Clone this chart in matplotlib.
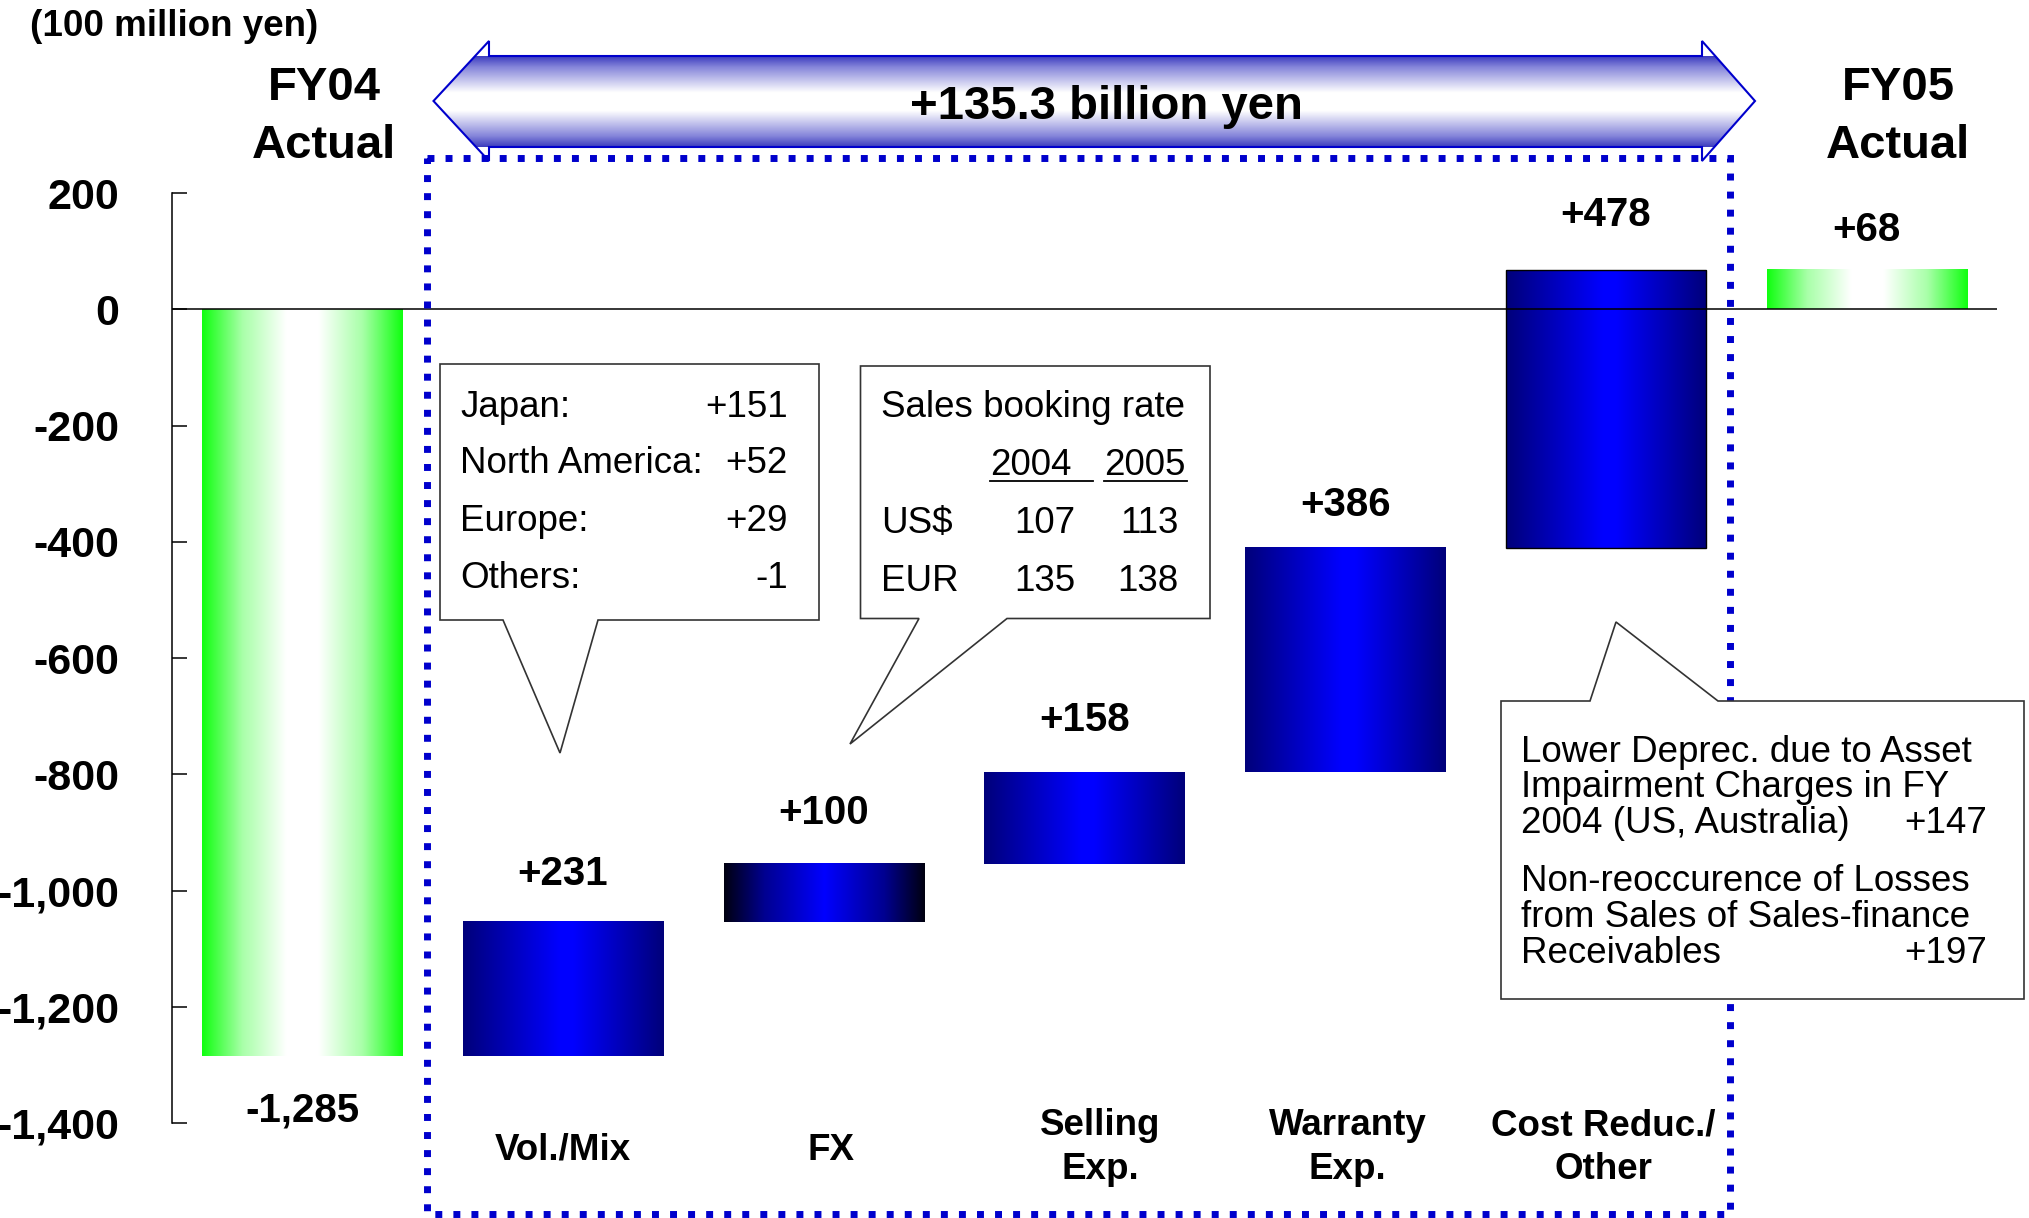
import matplotlib
matplotlib.use('Agg')
import matplotlib.pyplot as plt
import numpy as np
from matplotlib.colors import LinearSegmentedColormap
from matplotlib.patches import Polygon, Rectangle
from matplotlib.transforms import blended_transform_factory

plt.rcParams['font.family'] = ['Liberation Sans', 'DejaVu Sans']

W, H = 2029, 1218

# operating income bridge, 100 million yen
fy04_actual = -1285
step_labels = ['Vol./Mix', 'FX', 'Selling\nExp.', 'Warranty\nExp.', 'Cost Reduc./\nOther']
changes = [231, 100, 158, 386, 478]
fy05_actual = 68
yticks = [200, 0, -200, -400, -600, -800, -1000, -1200, -1400]
total_change = '+135.3 billion yen'

regions = ['Japan:', 'North America:', 'Europe:', 'Others:']
region_values = ['+151', '+52', '+29', '-1']
fx_years = ['2004', '2005']
fx_currencies = ['US$', 'EUR']
fx_rates = [[107, 113], [135, 138]]
cost_lines = ['Lower Deprec. due to Asset', 'Impairment Charges in FY', '2004 (US, Australia)',
              'Non-reoccurence of Losses', 'from Sales of Sales-finance', 'Receivables']
cost_values = ['+147', '+197']

# layout (pixels from top-left)
label_gap = [-50, 52, 55, 56, 47, 59, 44]
step_nudge = [0, 0.03, 0.06, 0.01, -0.01]

green = LinearSegmentedColormap.from_list('green', [(0, '#10ff10'), (0.2, '#a8ffa8'), (0.42, '#ffffff'),
                                                    (0.58, '#ffffff'), (0.8, '#a8ffa8'), (1, '#10ff10')])
blue = LinearSegmentedColormap.from_list('blue', [(0, '#00007a'), (0.48, '#0000ff'), (0.55, '#0000ff'),
                                                  (1, '#00007a')])
blue_dark = LinearSegmentedColormap.from_list('blue_dark', [(0, '#000010'), (0.2, '#000090'), (0.5, '#0000ff'),
                                                            (0.8, '#000090'), (1, '#000010')])
band = LinearSegmentedColormap.from_list('band', [(0, '#3c3cbe'), (0.12, '#8585da'), (0.4, '#ffffff'),
                                                  (0.6, '#ffffff'), (0.88, '#8585da'), (1, '#3c3cbe')])

fig = plt.figure(figsize=(W / 100, H / 100), dpi=100)
ax = fig.add_axes([171.7 / W, 0, (1997 - 171.7) / W, 1])

n = len(changes)
x = np.arange(n + 2)
bottoms = np.concatenate([[0], fy04_actual + np.cumsum([0] + changes[:-1]), [0]])
heights = np.concatenate([[fy04_actual], changes, [fy05_actual]])
cmaps = [green, blue, blue_dark, blue, blue, blue, green]

bars = ax.bar(x, heights, bottom=bottoms, width=0.767, facecolor='none', edgecolor='none', zorder=3)
bars[5].set_edgecolor('black')
bars[5].set_linewidth(1.0)

grad = np.linspace(0, 1, 256).reshape(1, -1)
for bar, cmap in zip(bars, cmaps):
    x0, y0 = bar.get_x(), bar.get_y()
    ax.imshow(grad, cmap=cmap, extent=[x0, x0 + bar.get_width(), y0, y0 + bar.get_height()],
              aspect='auto', interpolation='bilinear', zorder=2)

ax.axhline(0, color='black', lw=1.1, zorder=4)

ax.set_xlim(-0.5, 6.5)
ax.set_ylim(-1563.4, 532.1)
for side in ['top', 'right', 'bottom']:
    ax.spines[side].set_visible(False)
ax.spines['left'].set_bounds(-1400, 200)
ax.spines['left'].set_linewidth(1.1)
ax.set_xticks([])
ax.set_yticks(yticks)
ax.set_yticklabels([f'{v:,}' for v in yticks], fontsize=31, fontweight='bold')
ax.tick_params(axis='y', direction='in', length=10.8, width=1.1, pad=38)
ax.patch.set_visible(False)

# value labels
tops = bottoms + heights
label_y = [bottoms[0] + heights[0]] + list(tops[1:])
label_txt = [f'{fy04_actual:,}'] + [f'+{v}' for v in changes] + [f'+{fy05_actual}']
for xi, yi, txt, gap in zip(x, label_y, label_txt, label_gap):
    ax.annotate(txt, (xi, yi), xytext=(0, (gap - 4) * 0.72), textcoords='offset points',
                ha='center', va='center', fontsize=29, fontweight='bold', zorder=5)

# category names under the steps
trans = blended_transform_factory(ax.transData, ax.transAxes)
for xi, lab, dx in zip(x[1:-1], step_labels, step_nudge):
    lines = lab.split('\n')
    bases = [1160] if len(lines) == 1 else [1135, 1179]
    for line, b in zip(lines, bases):
        ax.text(xi + dx, 1 - b / H, line, transform=trans, ha='center', va='baseline',
                fontsize=26.5, fontweight='bold')

# overlay in pixel coordinates for annotations
ov = fig.add_axes([0, 0, 1, 1])
ov.patch.set_visible(False)
ov.axis('off')

ov.text(30, 36, '(100 million yen)', fontsize=26.5, fontweight='bold', va='baseline')
for cx in [324, 1898]:
    label = 'FY04' if cx < 1000 else 'FY05'
    ov.text(cx, 100, label, fontsize=34, fontweight='bold', ha='center', va='baseline')
    ov.text(cx, 158, 'Actual', fontsize=34, fontweight='bold', ha='center', va='baseline')

# total change arrow
arrow_pts = [(433.5, 101), (489, 41), (489, 56), (1702, 56), (1702, 41), (1755, 101),
             (1702, 161), (1702, 147), (489, 147), (489, 161)]
arrow = Polygon(arrow_pts, closed=True, facecolor='none', edgecolor='#0000cc', lw=1.5, zorder=3)
ov.add_patch(arrow)
im = ov.imshow(np.linspace(0, 1, 256).reshape(-1, 1), cmap=band, extent=[433, 1756, 147, 56],
               aspect='auto', interpolation='bilinear', zorder=2)
im.set_clip_path(arrow)
ov.text(1106, 107, total_change, fontsize=34, fontweight='bold', ha='center', va='center', zorder=4)

# dotted frame around the change items
ov.add_patch(Rectangle((426.5, 158.3), 1730.3 - 426.5, 1214 - 158.3, facecolor='none',
                       edgecolor='#0000cc', lw=5, ls=(0, (1, 1.6)), zorder=5))

box_style = dict(closed=True, facecolor='white', edgecolor='#333333', lw=1.2, zorder=6)

# regional volume callout
ov.add_patch(Polygon([(440, 364), (819, 364), (819, 620), (598, 620), (560, 753), (503, 620), (440, 620)],
                     **box_style))
for i, (reg, val) in enumerate(zip(regions, region_values)):
    b = [417, 473, 531, 588][i]
    ov.text(460, b, reg, fontsize=26.5, va='baseline', zorder=7)
    ov.text(788, b, val, fontsize=26.5, va='baseline', ha='right', zorder=7)

# exchange rate callout
ov.add_patch(Polygon([(860.5, 366), (1210, 366), (1210, 618.5), (1007, 618.5), (850, 744), (919, 618.5),
                      (860.5, 618.5)], **box_style))
ov.text(881, 417, 'Sales booking rate', fontsize=26.5, va='baseline', zorder=7)
for yr, xl, ul in zip(fx_years, [990, 1104], [(990, 1093), (1104, 1187)]):
    ov.text(xl, 475, yr, fontsize=26.5, va='baseline', zorder=7)
    ov.plot(ul, [481, 481], color='black', lw=1.3, zorder=7)
for cur, rates, b in zip(fx_currencies, fx_rates, [533, 591]):
    ov.text(881, b, cur, fontsize=26.5, va='baseline', zorder=7)
    for r, xr in zip(rates, [1075, 1179]):
        ov.text(xr, b, str(r), fontsize=26.5, va='baseline', ha='right', zorder=7)

# cost reduction callout
ov.add_patch(Polygon([(1501, 701), (1590, 701), (1616, 622), (1718, 701), (2024, 701), (2024, 999),
                      (1501, 999)], **box_style))
for line, b in zip(cost_lines, [762, 797, 833, 891, 927, 963]):
    ov.text(1521, b, line, fontsize=26.5, va='baseline', zorder=7)
for val, b in zip(cost_values, [833, 963]):
    ov.text(1987, b, val, fontsize=26.5, va='baseline', ha='right', zorder=7)

ov.set_xlim(0, W)
ov.set_ylim(H, 0)

fig.savefig('out.png', dpi=100)
